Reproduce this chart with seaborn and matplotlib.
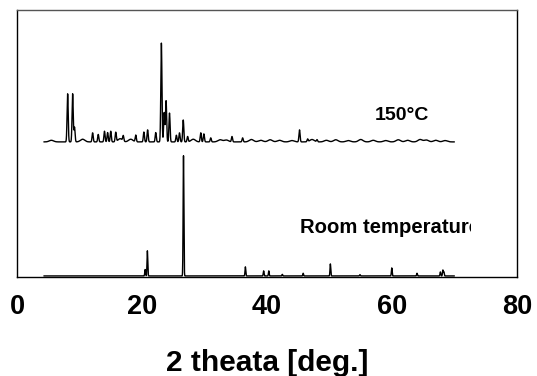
import numpy as np
import matplotlib
matplotlib.use("Agg")
import matplotlib.pyplot as plt
import seaborn as sns
from matplotlib.transforms import Bbox, TransformedBbox

# peak positions (2theta, deg) and heights
hot_pos = [8.1, 8.9, 9.2, 12.1, 13.0, 14.0, 14.5, 15.0, 15.8, 17.0, 19.0,
           20.3, 20.9, 22.2, 23.1, 23.55, 23.85, 24.4, 25.5, 26.0, 26.6,
           27.3, 29.4, 29.9, 31.0, 34.4, 36.1, 45.2, 46.5, 48.0]
hot_h = [18.0, 18.0, 5.5, 3.4, 2.8, 4.0, 3.5, 4.0, 3.5, 2.0, 2.5,
         3.7, 4.5, 3.5, 37.0, 11.0, 15.5, 10.8, 2.5, 3.4, 8.2,
         2.0, 3.4, 3.0, 1.5, 2.0, 1.5, 4.5, 1.0, 0.8]
# small humps of the wavy baseline (top trace)
hump_pos = [5.5, 10.5, 16.5, 18.2, 28.2, 32.5, 33.5, 37.5, 39.0, 40.5, 42.0,
            44.0, 47.2, 49.5, 51.0, 53.0, 55.0, 57.0, 59.0, 61.0, 62.5,
            64.5, 65.5, 67.0, 68.5]
hump_h = [0.6, 1.0, 1.2, 1.0, 1.0, 0.8, 0.7, 0.9, 0.6, 0.8, 0.6,
          0.5, 0.9, 0.6, 0.8, 0.5, 0.9, 0.6, 0.5, 0.8, 0.6,
          0.9, 0.7, 0.6, 0.5]

rt_pos = [20.5, 20.86, 26.64, 36.54, 39.46, 40.29, 42.45, 45.79, 50.14,
          54.87, 59.96, 64.0, 67.74, 68.14, 68.3]
rt_h = [2.4, 9.4, 45.0, 3.4, 1.9, 1.9, 0.6, 1.0, 4.5,
        0.5, 3.0, 1.0, 1.5, 2.2, 1.5]

hot_offset = 50.6
rt_offset = 0.4

x = np.arange(4.3, 70.0, 0.02)


def pattern(pos, h, width):
    y = np.zeros_like(x)
    for p, a in zip(pos, h):
        y += a * np.exp(-0.5 * ((x - p) / width) ** 2)
    return y


y_hot = hot_offset + pattern(hot_pos, hot_h, 0.09) + pattern(hump_pos, hump_h, 0.35)
y_rt = rt_offset + pattern(rt_pos, rt_h, 0.06)

sns.set_style("white")
plt.rcParams["font.family"] = ["Liberation Sans", "DejaVu Sans"]
plt.rcParams["text.color"] = "black"
plt.rcParams["xtick.color"] = "black"
plt.rcParams["axes.labelcolor"] = "black"

fig = plt.figure(figsize=(5.37, 3.76), dpi=100)
ax = fig.add_axes([17 / 537, 1 - 277 / 376, 500 / 537, 267 / 376])

sns.lineplot(x=x, y=y_hot, ax=ax, color="black", linewidth=1.0)
sns.lineplot(x=x, y=y_rt, ax=ax, color="black", linewidth=1.0)

ax.set_xlim(0, 80)
ax.set_ylim(0, 100)
ax.set_yticks([])
ax.set_xticks([0, 20, 40, 60, 80])
ax.tick_params(axis="x", length=0, pad=12, labelsize=19.5, labelcolor="black")
for lab in ax.get_xticklabels():
    lab.set_fontweight("bold")
ax.set_xlabel("2 theata [deg.]", fontsize=21.5, fontweight="bold", labelpad=21)

for side in ["left", "right", "bottom", "top"]:
    ax.spines[side].set_color("black")
    ax.spines[side].set_linewidth(1.0)
ax.spines["top"].set_color("#555555")

ax.text(61.6, 60.3, "150\u00b0C", fontsize=14, fontweight="bold",
        ha="center", va="center")
t = ax.text(45.2, 18.7, "Room temperature", fontsize=14.6, fontweight="bold",
            ha="left", va="center")
t.set_clip_box(TransformedBbox(Bbox([[0, 0], [72.6, 100]]), ax.transData))
t.set_clip_on(True)

fig.savefig("out.png", dpi=100)
